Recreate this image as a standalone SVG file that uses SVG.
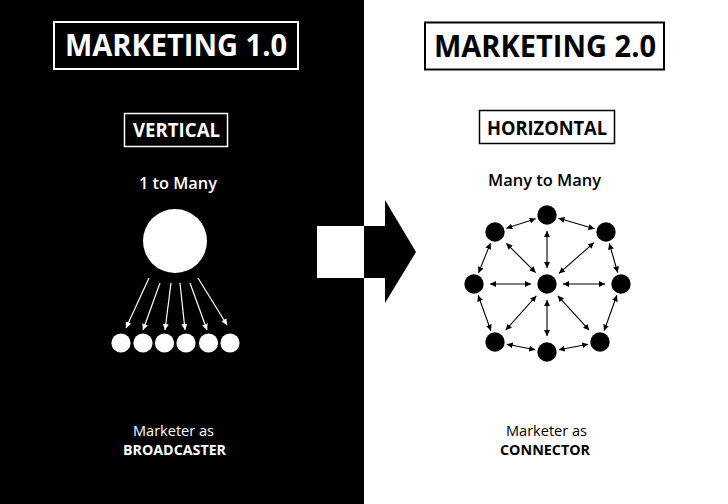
<svg xmlns="http://www.w3.org/2000/svg" width="728" height="504" viewBox="0 0 728 504">
<style>
text{font-family:"Open Sans","Liberation Sans",sans-serif;text-anchor:start}
.w{fill:#fff}.k{fill:#000}
.title{font-size:31px;font-weight:700}
.sub{font-size:20px;font-weight:700}
.mid{font-size:16px;font-weight:600}
.reg{font-size:15px;font-weight:400}
.bold{font-size:15px;font-weight:700}
.wl{stroke:#fff;stroke-width:1.2;fill:none}
.kl{stroke:#000;stroke-width:1.1;fill:none}
</style>
<defs>
<marker id="wh" viewBox="0 0 6 6" refX="6" refY="3" markerWidth="6" markerHeight="6" markerUnits="userSpaceOnUse" orient="auto"><path d="M0,0 L6,3 L0,6 z" fill="#fff"/></marker>
<marker id="kh" viewBox="0 0 6 6" refX="6" refY="3" markerWidth="6" markerHeight="6" markerUnits="userSpaceOnUse" orient="auto-start-reverse"><path d="M0,0 L6,3 L0,6 z" fill="#000"/></marker>
</defs>
<rect x="0" y="0" width="728" height="504" fill="#fff"/>
<rect x="0" y="0" width="364" height="504" fill="#000"/>

<g id="title1">
<rect x="54" y="22" width="244" height="47" fill="none" stroke="#fff" stroke-width="2"/>
<text class="title w" x="65" y="56" textLength="222" lengthAdjust="spacingAndGlyphs">MARKETING 1.0</text>
</g>
<g id="title2">
<rect x="425" y="22.5" width="239" height="47" fill="none" stroke="#000" stroke-width="2"/>
<text class="title k" x="434" y="57" textLength="222" lengthAdjust="spacingAndGlyphs">MARKETING 2.0</text>
</g>
<g id="vertical">
<rect x="124.5" y="113.5" width="103" height="33" fill="none" stroke="#fff" stroke-width="1.5"/>
<text class="sub w" x="133" y="137" textLength="87" lengthAdjust="spacingAndGlyphs">VERTICAL</text>
</g>
<g id="horizontal">
<rect x="479.5" y="110.5" width="135" height="33" fill="none" stroke="#000" stroke-width="1.5"/>
<text class="sub k" x="487" y="135" textLength="120" lengthAdjust="spacingAndGlyphs">HORIZONTAL</text>
</g>
<g id="label-1tomany"><text class="mid w" x="139" y="189" textLength="78" lengthAdjust="spacingAndGlyphs">1 to Many</text></g>
<g id="label-manytomany"><text class="mid k" x="488" y="186" textLength="113" lengthAdjust="spacingAndGlyphs">Many to Many</text></g>

<g id="shift-arrow">
<rect x="317" y="226" width="47" height="52" fill="#fff"/>
<polygon points="364,226 385,226 385,200 416,252 385,303 385,278 364,278" fill="#000"/>
</g>

<g id="broadcaster">
<circle cx="175" cy="241" r="32" fill="#fff"/>
<g fill="#fff">
<circle cx="121" cy="343" r="9.6"/>
<circle cx="143" cy="343" r="9.6"/>
<circle cx="164.5" cy="343" r="9.6"/>
<circle cx="186" cy="343" r="9.6"/>
<circle cx="208.5" cy="343" r="9.6"/>
<circle cx="230" cy="343" r="9.6"/>
</g>
</g>

<g id="network-nodes" fill="#000">
<circle id="n-c" cx="547" cy="284" r="9.7"/>
<circle id="n-t" cx="547" cy="215" r="9.7"/>
<circle id="n-tr" cx="606" cy="232" r="9.7"/>
<circle id="n-r" cx="621" cy="284" r="9.7"/>
<circle id="n-br" cx="600" cy="342" r="9.7"/>
<circle id="n-b" cx="547" cy="352" r="9.7"/>
<circle id="n-bl" cx="495" cy="342" r="9.7"/>
<circle id="n-l" cx="474" cy="284" r="9.7"/>
<circle id="n-tl" cx="495" cy="232" r="9.7"/>
</g>

<g id="connectors">
<g class="wl" marker-end="url(#wh)">
<line x1="149" y1="278" x2="126" y2="328"/>
<line x1="160" y1="283" x2="143" y2="330"/>
<line x1="171" y1="283" x2="165" y2="330"/>
<line x1="180" y1="283" x2="185" y2="330"/>
<line x1="190" y1="283" x2="207" y2="330"/>
<line x1="198" y1="278" x2="227" y2="325"/>
</g>
<g class="kl" marker-start="url(#kh)" marker-end="url(#kh)">
<line x1="547" y1="268" x2="547" y2="231"/>
<line x1="547" y1="300" x2="547" y2="336"/>
<line x1="531" y1="284" x2="490" y2="284"/>
<line x1="563" y1="284" x2="605" y2="284"/>
<line x1="535.7" y1="272.7" x2="506.3" y2="243.3"/>
<line x1="559" y1="273.4" x2="594" y2="242.6"/>
<line x1="536.3" y1="295.9" x2="505.7" y2="330.1"/>
<line x1="557.8" y1="295.8" x2="589.2" y2="330.2"/>
<line x1="558.5" y1="218.3" x2="594.5" y2="228.7"/>
<line x1="609.3" y1="243.5" x2="617.7" y2="272.5"/>
<line x1="616.9" y1="295.3" x2="604.1" y2="330.7"/>
<line x1="588.2" y1="344.2" x2="558.8" y2="349.8"/>
<line x1="535.2" y1="349.7" x2="506.8" y2="344.3"/>
<line x1="490.9" y1="330.7" x2="478.1" y2="295.3"/>
<line x1="478.5" y1="272.9" x2="490.5" y2="243.1"/>
<line x1="506.4" y1="228.3" x2="535.6" y2="218.7"/>
</g>
</g>

<g id="caption-left">
<text class="reg w" x="133" y="436" textLength="81" lengthAdjust="spacingAndGlyphs">Marketer as</text>
<text class="bold w" x="123" y="455" textLength="103" lengthAdjust="spacingAndGlyphs">BROADCASTER</text>
</g>
<g id="caption-right">
<text class="reg k" x="506" y="436" textLength="81" lengthAdjust="spacingAndGlyphs">Marketer as</text>
<text class="bold k" x="500" y="455" textLength="90" lengthAdjust="spacingAndGlyphs">CONNECTOR</text>
</g>
</svg>
